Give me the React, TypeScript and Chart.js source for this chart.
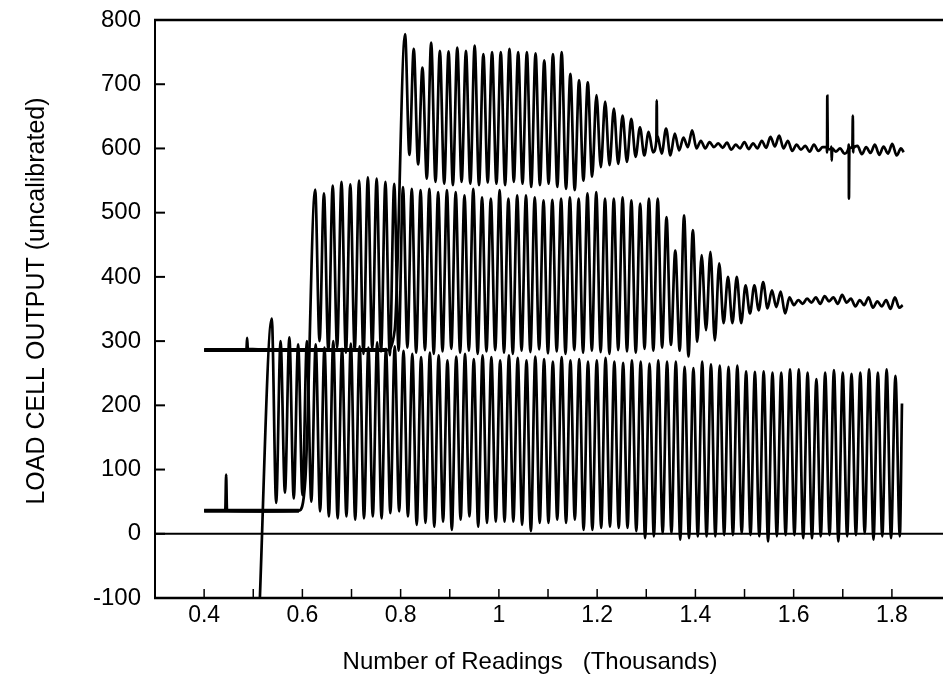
import React, { useEffect, useRef } from 'react';
import { Chart, registerables } from 'chart.js';

Chart.register(...registerables);

// ---------- axes ----------
const X_MIN = 0.3;
const X_MAX = 1.904;
const Y_MIN = -100;
const Y_MAX = 800;
const xTickLabels = [0.4, 0.6, 0.8, 1.0, 1.2, 1.4, 1.6, 1.8];
const xTickMarks = [0.4, 0.5, 0.6, 0.7, 0.8, 0.9, 1.0, 1.1, 1.2, 1.3, 1.4, 1.5, 1.6, 1.7, 1.8];
const yTicks = [-100, 0, 100, 200, 300, 400, 500, 600, 700, 800];
const yTitle = 'LOAD CELL OUTPUT (uncalibrated)';
const xTitle = 'Number of Readings   (Thousands)';

// ---------- bottom run (starts off-scale, oscillates 0..300) ----------
const bottomLeadX = [0.511];
const bottomLeadY = [-150];
const bottomStartX = 0.5377;
const bottomHalfStep = 0.00894;
const bottomPeaks = [
  335, 300, 306, 295, 300, 295, 290, 300, 288, 296, 292, 290, 298, 288, 292, 285,
  280, 275, 282, 278, 270, 276, 280, 272, 278, 275, 270, 278, 274, 270, 276, 272, 268, 275, 270, 272, 268, 270, 274, 268, 266, 270, 268, 265, 270,
  268, 268, 260, 258, 268, 264, 262, 260, 262, 253, 252, 253, 251, 251, 256, 256, 251, 241, 251, 255, 251, 249, 251, 256, 251, 256, 246,
];
const bottomTroughs = [
  48, 64, 55, 60, 50,
  35, 27, 24, 27, 22, 24, 27, 24, 32, 35, 27, 14, 17, 11, 19, 6, 22, 27, 11, 17, 19, 19, 19, 14, 4, 17, 17, 22, 17, 22, 6,
  6, 9, 11, 9, 9, 4, -7, -4, 1, 1, -9, -7, -4, -4, -4, -2, -2, 1, -2, -4, -12, -4, -2, -2, -7, -7, -4, -2, -12, -4, -2, 1, -9, -4, -7, -4,
];
const bottomTailX = [1.8205];
const bottomTailY = [203];

// ---------- middle run (static ~36, then oscillates, settles ~360) ----------
const midLeadX = [0.4, 0.443, 0.4448, 0.4466, 0.52, 0.593, 0.606];
const midLeadY = [36, 36, 92, 36, 35, 36, 84];
const midStartX = 0.626;
const midHalfStep = 0.00894;
const midPeaks = [
  536, 530, 542, 548, 544, 550, 555, 553, 548, 545,
  540, 537, 535, 537, 532, 535, 532, 527, 537, 524, 522, 535, 522, 527, 527, 524, 519,
  520, 522,
  524, 522, 530, 532, 522, 522, 524, 519, 514, 522, 522, 493, 441, 496, 473, 434, 439, 421, 400, 400, 387, 387, 392, 379, 377,
  368, 364, 366, 368, 370, 368, 372, 366, 364, 368, 362, 364, 368,
];
const midTroughs = [
  300, 285, 290, 282, 286, 280, 288, 284, 278, 285, 290, 282, 286, 280, 284, 288, 282, 285, 280, 284,
  286, 282, 280, 285, 283, 287, 281, 284, 280, 286, 282, 285, 283, 280, 286, 284, 282, 288, 285, 290,
  294, 285, 276, 299, 317, 301, 328, 328, 328, 343, 348, 351, 353, 343,
  356, 358, 360, 358, 362, 358, 360, 354, 356, 352, 354, 350, 352,
];
const midTailX = [1.822];
const midTailY = [356];
const midFlatX = [0.4, 0.593];
const midFlatY = [36, 36];

// ---------- top run (static ~286, then oscillates, settles ~600) ----------
const topLeadX = [0.4, 0.486, 0.4875, 0.489, 0.6, 0.772, 0.788];
const topLeadY = [286, 286, 305, 288, 286, 286, 318];
const topStartX = 0.809;
const topHalfStep = 0.008855;
const topPeaks = [
  778, 755, 726, 765, 752, 751, 757, 752, 760, 747, 750, 750, 755, 750, 750, 748, 737, 747, 750, 716,
  706, 703, 683, 673, 662, 651, 646, 633, 626, 620, 631, 623, 617, 628,
  612, 610, 608, 609, 606, 610, 608, 612, 618, 620, 612, 606, 604, 606, 602, 603, 600, 606, 604, 602, 606, 603, 607, 600,
];
const topTroughs = [
  590, 575, 553, 548, 545, 543, 548, 545, 543, 547, 545, 543, 548, 545, 540, 543, 545, 540, 537, 535,
  550, 556, 571, 574, 576, 579, 587, 589, 594, 592, 589, 597, 602, 600,
  600, 602, 601, 598, 600, 599, 600, 601, 603, 600, 596, 598, 595, 596, 594, 595, 592, 594, 591, 593, 590, 592, 589,
];
const topSpikeX = [1.3205, 1.3213, 1.3221, 1.6675, 1.6685, 1.6695, 1.6765, 1.6775, 1.6785, 1.7115, 1.7125, 1.7135, 1.7195, 1.7205, 1.7215];
const topSpikeY = [612, 675, 612, 602, 682, 600, 598, 581, 600, 600, 522, 600, 602, 651, 600];
const topTailX = [1.824];
const topTailY = [594];
const topFlatX = [0.4, 0.772];
const topFlatY = [286, 286];

type P = { x: number; y: number };

function pairs(xs: number[], ys: number[]): P[] {
  return xs.map((x, i) => ({ x, y: ys[i] }));
}

function zigzag(x0: number, half: number, peaks: number[], troughs: number[]): P[] {
  const out: P[] = [];
  const n = peaks.length + troughs.length;
  for (let i = 0; i < n; i++) {
    out.push({ x: x0 + i * half, y: i % 2 === 0 ? peaks[i >> 1] : troughs[i >> 1] });
  }
  return out;
}

function series(parts: P[][]): P[] {
  return ([] as P[]).concat(...parts).sort((a, b) => a.x - b.x);
}

const FONT = '"Liberation Sans", Arial, Helvetica, sans-serif';

const axesPlugin = {
  id: 'axesPlugin',
  afterDatasetsDraw(chart: any) {
    const { ctx, chartArea: a, scales } = chart;
    const x = scales.x;
    const y = scales.y;
    const line = (x1: number, y1: number, x2: number, y2: number) => {
      ctx.beginPath();
      ctx.moveTo(x1, y1);
      ctx.lineTo(x2, y2);
      ctx.stroke();
    };
    ctx.save();
    ctx.strokeStyle = '#000';
    ctx.lineCap = 'butt';
    ctx.lineWidth = 2;
    line(a.left, a.top, a.left, a.bottom);
    ctx.lineWidth = 2.5;
    line(a.left - 1, a.top, a.right, a.top);
    line(a.left - 1, a.bottom, a.right, a.bottom);
    ctx.lineWidth = 2;
    const y0 = y.getPixelForValue(0);
    line(a.left, y0, a.right, y0);
    yTicks.forEach((v) => {
      const py = y.getPixelForValue(v);
      line(a.left, py, a.left + 10, py);
    });
    ctx.lineWidth = 1.5;
    xTickMarks.forEach((v) => {
      const px = x.getPixelForValue(v);
      line(px, a.bottom, px, a.bottom - 9);
    });
    ctx.restore();
  },
  afterDraw(chart: any) {
    const { ctx } = chart;
    ctx.save();
    ctx.fillStyle = '#000';
    ctx.textAlign = 'center';
    ctx.textBaseline = 'middle';
    ctx.font = `24px ${FONT}`;
    ctx.fillText(xTitle, 530, 662);
    ctx.translate(37, 301);
    ctx.rotate(-Math.PI / 2);
    ctx.font = `25px ${FONT}`;
    ctx.fillText(yTitle, 0, 0);
    ctx.restore();
  },
};

export default function App() {
  const ref = useRef<HTMLCanvasElement | null>(null);
  useEffect(() => {
    if (!ref.current) return;
    const bottom = series([
      pairs(bottomLeadX, bottomLeadY),
      zigzag(bottomStartX, bottomHalfStep, bottomPeaks, bottomTroughs),
      pairs(bottomTailX, bottomTailY),
    ]);
    const middle = series([
      pairs(midLeadX, midLeadY),
      zigzag(midStartX, midHalfStep, midPeaks, midTroughs),
      pairs(midTailX, midTailY),
    ]);
    const top = series([
      pairs(topLeadX, topLeadY),
      zigzag(topStartX, topHalfStep, topPeaks, topTroughs),
      pairs(topSpikeX, topSpikeY),
      pairs(topTailX, topTailY),
    ]);
    const wave = { pointRadius: 0, borderColor: '#000', fill: false, cubicInterpolationMode: 'monotone', borderWidth: 2.7 };
    const flat = { pointRadius: 0, borderColor: '#000', fill: false, tension: 0, borderWidth: 4 };
    const chart = new Chart(ref.current, {
      type: 'line',
      data: {
        datasets: [
          { ...wave, label: 'bottom', data: bottom },
          { ...wave, label: 'middle', data: middle },
          { ...wave, label: 'top', data: top },
          { ...flat, label: 'middle static', data: pairs(midFlatX, midFlatY) },
          { ...flat, label: 'top static', data: pairs(topFlatX, topFlatY) },
        ],
      },
      options: {
        responsive: false,
        animation: false,
        devicePixelRatio: 1,
        layout: { padding: { top: 20, right: 0, left: 0, bottom: 0 } },
        plugins: { legend: { display: false }, tooltip: { enabled: false } },
        scales: {
          x: {
            type: 'linear',
            min: X_MIN,
            max: X_MAX,
            afterBuildTicks: (s: any) => {
              s.ticks = xTickLabels.map((v) => ({ value: v }));
            },
            afterFit: (s: any) => {
              s.height = 81;
              s.paddingLeft = 0;
              s.paddingRight = 0;
            },
            grid: { display: false, drawTicks: false },
            border: { display: false },
            ticks: {
              autoSkip: false,
              maxRotation: 0,
              padding: 4,
              color: '#000',
              font: { family: FONT, size: 23 },
              callback: (v: any) => String(Math.round(Number(v) * 10) / 10),
            },
          },
          y: {
            type: 'linear',
            min: Y_MIN,
            max: Y_MAX,
            afterBuildTicks: (s: any) => {
              s.ticks = yTicks.map((v) => ({ value: v }));
            },
            afterFit: (s: any) => {
              s.width = 155;
              s.paddingTop = 0;
              s.paddingBottom = 0;
            },
            grid: { display: false, drawTicks: false },
            border: { display: false },
            ticks: {
              padding: 14,
              color: '#000',
              font: { family: FONT, size: 24 },
              callback: (v: any) => String(v),
            },
          },
        },
      },
      plugins: [axesPlugin],
    } as any);
    return () => chart.destroy();
  }, []);
  return (
    <div style={{ position: 'absolute', left: 0, top: 0, width: 943, height: 679, background: '#fff' }}>
      <canvas ref={ref} width={943} height={679} style={{ display: 'block' }} />
    </div>
  );
}
